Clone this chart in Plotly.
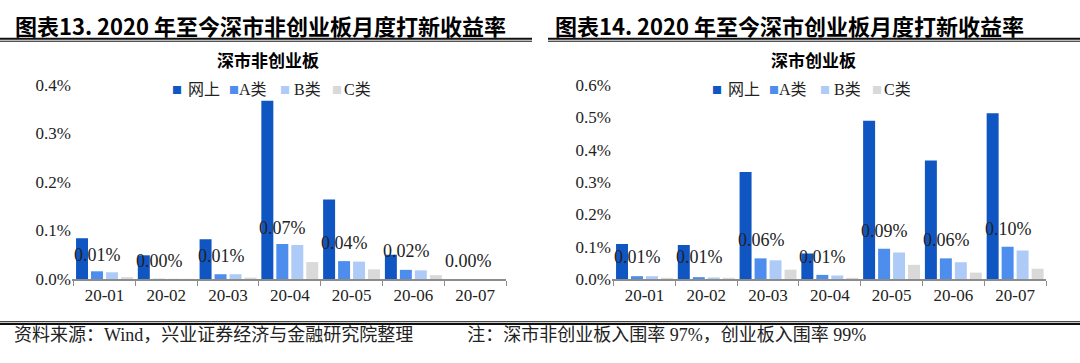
import plotly.graph_objects as go
from plotly.subplots import make_subplots

months = ["20-01", "20-02", "20-03", "20-04", "20-05", "20-06", "20-07"]
series_names = ["网上", "A类", "B类", "C类"]
colors = ["#0F56C2", "#4D8DEE", "#AECBF7", "#D9D9D9"]

# 深市非创业板 (percent)
nc_online = [0.084, 0.049, 0.082, 0.367, 0.164, 0.050, 0.0]
nc_a = [0.016, 0.0005, 0.010, 0.072, 0.037, 0.019, 0.0]
nc_b = [0.014, 0.0004, 0.010, 0.070, 0.036, 0.018, 0.0]
nc_c = [0.004, 0.0002, 0.003, 0.035, 0.020, 0.008, 0.0]
nc_overall = [0.012, 0.001, 0.010, 0.069, 0.038, 0.020, 0.0]

# 深市创业板 (percent)
cy_online = [0.108, 0.105, 0.331, 0.079, 0.489, 0.366, 0.512]
cy_a = [0.009, 0.006, 0.064, 0.013, 0.094, 0.064, 0.100]
cy_b = [0.009, 0.005, 0.058, 0.011, 0.082, 0.052, 0.088]
cy_c = [0.002, 0.001, 0.029, 0.002, 0.044, 0.020, 0.032]
cy_overall = [0.012, 0.012, 0.064, 0.012, 0.092, 0.064, 0.100]

left_title = "图表13. 2020 年至今深市非创业板月度打新收益率"
right_title = "图表14. 2020 年至今深市创业板月度打新收益率"
left_sub = "深市非创业板"
right_sub = "深市创业板"
footer = "资料来源：Wind，兴业证券经济与金融研究院整理\u3000\u3000\u3000注：深市非创业板入围率 97%，创业板入围率 99%"

W, H = 1080, 363
SERIF = "Liberation Serif, Times New Roman, Noto Sans CJK SC, serif"
CJK = "Noto Sans CJK SC, sans-serif"

fig = make_subplots(rows=1, cols=2)

def px_x(x):
    return x / W

def px_y(y):
    return 1 - y / H

panels = [
    (1, 0, [nc_online, nc_a, nc_b, nc_c], nc_overall, [0, 0.4], [0, 0.1, 0.2, 0.3, 0.4]),
    (2, 540, [cy_online, cy_a, cy_b, cy_c], cy_overall, [0, 0.6], [0, 0.1, 0.2, 0.3, 0.4, 0.5, 0.6]),
]

# legend key layout (pixels, relative to panel left)
key_centers = [176.5, 234, 285, 336.5]
key_text_left = [187, 238, 293, 343]

for col, off, vals, overall, yr, yt in panels:
    for name, v, c in zip(series_names, vals, colors):
        fig.add_trace(go.Bar(x=months, y=v, name=name, marker_color=c,
                             marker_line_width=0, showlegend=False), row=1, col=col)
    xref = "x" if col == 1 else "x2"
    yref = "y" if col == 1 else "y2"
    for m, o in zip(months, overall):
        fig.add_annotation(x=m, y=o, xref=xref, yref=yref, text=f"{o:.2f}%",
                           showarrow=False, xshift=-7, yshift=18,
                           font=dict(family=SERIF, size=18, color="#222222"))
    for name, c, kc, kt in zip(series_names, colors, key_centers, key_text_left):
        fig.add_annotation(x=px_x(off + kc), y=px_y(85), xref="paper", yref="paper",
                           text="■", showarrow=False, xanchor="center", yanchor="middle",
                           font=dict(family=CJK, size=10, color=c))
        fig.add_annotation(x=px_x(off + kt), y=px_y(85), xref="paper", yref="paper",
                           text=name, showarrow=False, xanchor="left", yanchor="middle",
                           borderpad=0,
                           font=dict(family=SERIF, size=16, color="#222222"))
    fig.update_yaxes(range=yr, tickvals=yt, ticktext=[f"{t:.1f}%" for t in yt],
                     showgrid=False, zeroline=False, showline=False,
                     tickfont=dict(family=SERIF, size=17, color="#222222"),
                     ticks="", row=1, col=col)
    fig.update_xaxes(type="category", showgrid=False, showline=True,
                     linecolor="#8C8C8C", linewidth=1.5, ticks="outside",
                     tickson="boundaries", ticklen=5, tickcolor="#8C8C8C",
                     tickfont=dict(family=SERIF, size=17, color="#222222"),
                     row=1, col=col)

fig.update_layout(
    xaxis=dict(domain=[px_x(72), px_x(506)]),
    xaxis2=dict(domain=[px_x(612), px_x(1046)]),
    yaxis=dict(domain=[px_y(285), px_y(80)]),
    yaxis2=dict(domain=[px_y(285), px_y(80)]),
    width=W, height=H, autosize=False,
    margin=dict(l=0, r=0, t=0, b=0),
    paper_bgcolor="white", plot_bgcolor="white",
    barmode="group", bargap=0.03, bargroupgap=0.2,
    showlegend=False,
)

# titles
for txt, x in [(left_title, 13), (right_title, 553)]:
    fig.add_annotation(x=px_x(x), y=px_y(17), xref="paper", yref="paper", text=f"<b>{txt}</b>",
                       showarrow=False, xanchor="left", yanchor="middle",
                       font=dict(family=CJK, size=22, color="#000000"))
for txt, x in [(left_sub, 268), (right_sub, 813)]:
    fig.add_annotation(x=px_x(x), y=px_y(53), xref="paper", yref="paper", text=f"<b>{txt}</b>",
                       showarrow=False, xanchor="center", yanchor="middle",
                       font=dict(family=CJK, size=17, color="#000000"))
fig.add_annotation(x=px_x(12), y=px_y(344), xref="paper", yref="paper", text=footer,
                   showarrow=False, xanchor="left", yanchor="middle",
                   font=dict(family=SERIF, size=18, color="#222222"))

# rules
for x0, x1 in [(0, 532), (548, 1080)]:
    fig.add_shape(type="line", xref="paper", yref="paper", x0=px_x(x0), x1=px_x(x1),
                  y0=px_y(31.5), y1=px_y(31.5), line=dict(color="#111111", width=2))
    fig.add_shape(type="line", xref="paper", yref="paper", x0=px_x(x0), x1=px_x(x1),
                  y0=px_y(34), y1=px_y(34), line=dict(color="#111111", width=1))
fig.add_shape(type="line", xref="paper", yref="paper", x0=0, x1=1,
              y0=px_y(330), y1=px_y(330), line=dict(color="#111111", width=1))
fig.add_shape(type="line", xref="paper", yref="paper", x0=0, x1=1,
              y0=px_y(332.5), y1=px_y(332.5), line=dict(color="#111111", width=2))

fig.write_html("out.html", config={"displayModeBar": False},
               post_script="document.body.style.margin='0px';document.body.style.overflow='hidden';")
